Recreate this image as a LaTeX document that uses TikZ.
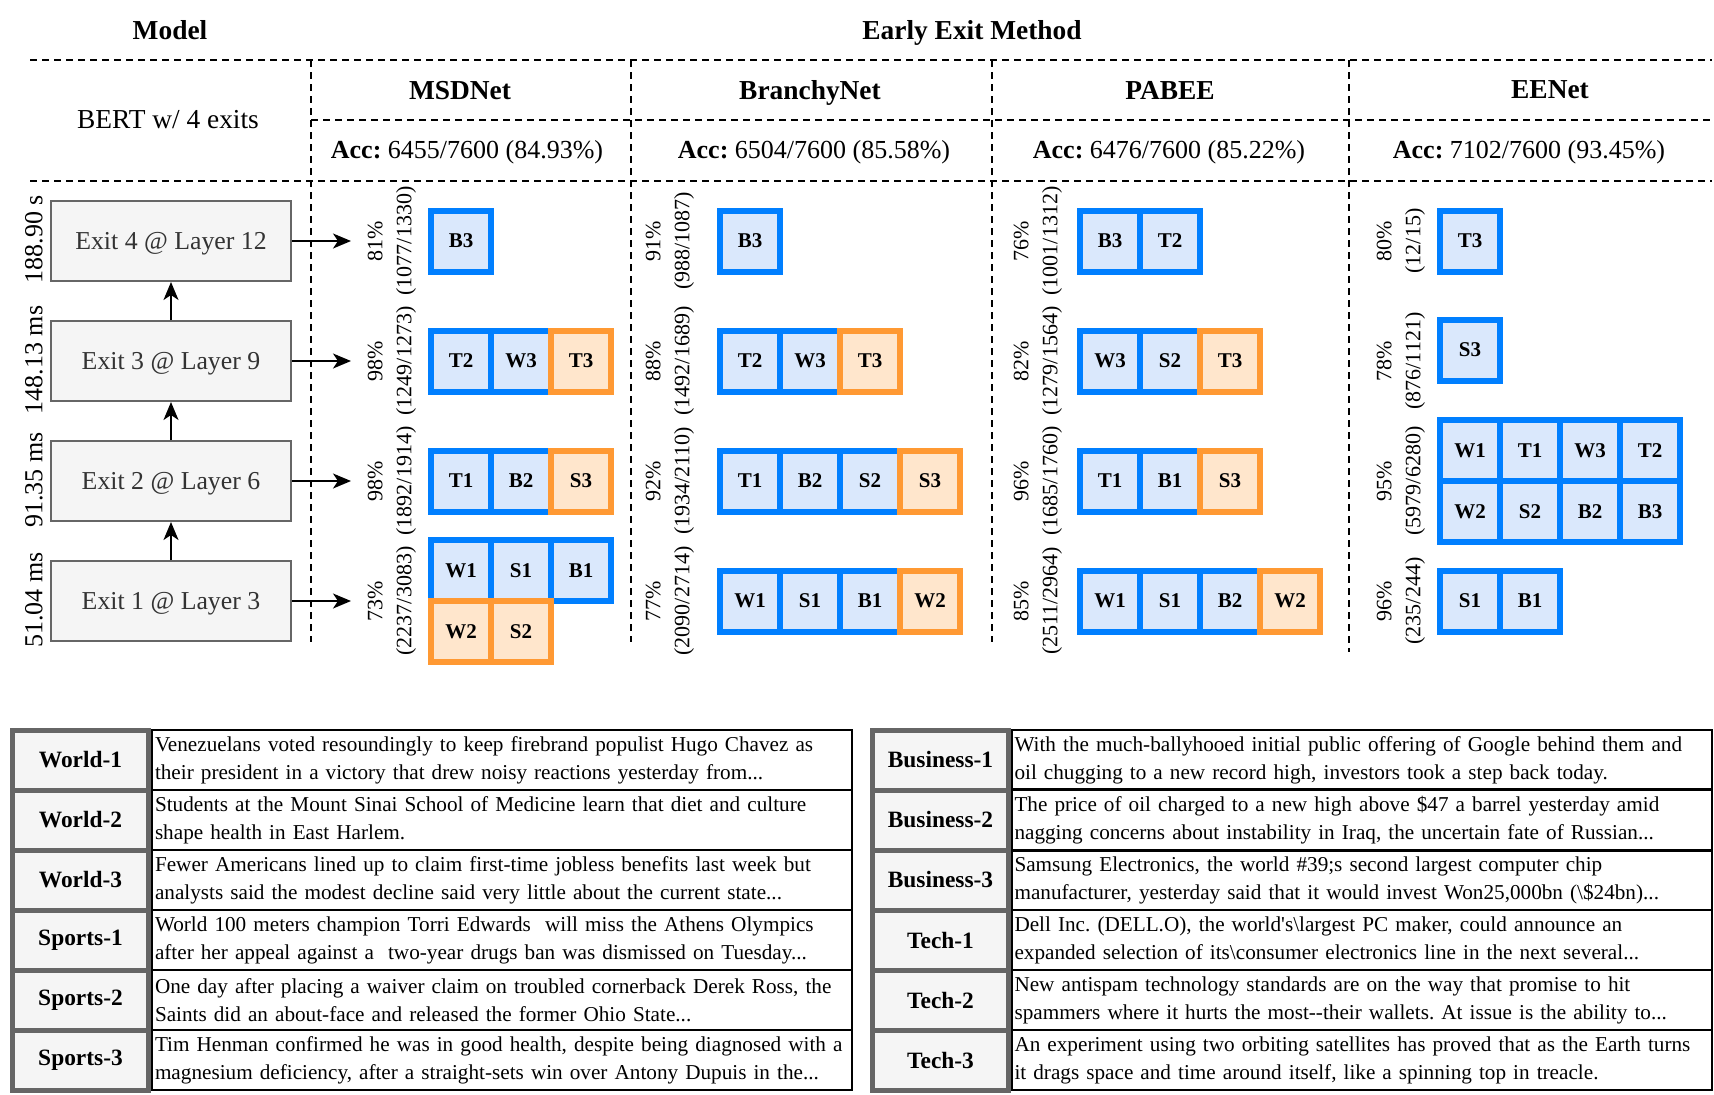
\documentclass[tikz,border=0pt]{standalone}
\usepackage{fontspec}
\setmainfont{Liberation Serif}
\usetikzlibrary{arrows.meta}
\frenchspacing

\definecolor{exitfill}{HTML}{F5F5F5}
\definecolor{exitline}{HTML}{666666}
\definecolor{exittext}{HTML}{333333}
\definecolor{blueline}{HTML}{007FFF}
\definecolor{bluefill}{HTML}{DAE8FC}
\definecolor{orangeline}{HTML}{FF9933}
\definecolor{orangefill}{HTML}{FFE6CC}

\begin{document}
\begin{tikzpicture}[
    x=0.5pt, y=-0.5pt,
    >={Stealth[length=9pt, width=7.5pt, inset=2.5pt]},
    % Styles for the header
    title/.style={text depth=0pt, font=\fontsize{13.7}{16}\selectfont\bfseries},
    accline/.style={font=\fontsize{13}{16}\selectfont},
    sepline/.style={line width=1pt, dash pattern=on 3.5pt off 2.5pt},
    % Styles for the model column
    exitbox/.style={draw=exitline, fill=exitfill, line width=1pt, minimum width=120pt, minimum height=40pt, text depth=0pt, text=exittext, font=\fontsize{12.9}{15}\selectfont},
    timelab/.style={rotate=90, font=\fontsize{13}{15}\selectfont},
    link/.style={->, line width=1pt},
    % Styles for the exit results
    pctlab/.style={rotate=90, align=center, font=\fontsize{11}{14.5}\selectfont},
    cell/.style={line width=3pt, minimum width=30pt, minimum height=30.5pt, inner sep=0pt, font=\fontsize{10.5}{12}\selectfont\bfseries},
    bcell/.style={cell, draw=blueline, fill=bluefill},
    ocell/.style={cell, draw=orangeline, fill=orangefill},
    % Styles for the sample table
    catbox/.style={draw=exitline, fill=exitfill, line width=2.5pt, minimum width=68pt, minimum height=30pt, font=\fontsize{11.7}{14}\selectfont\bfseries},
    txtbox/.style={draw=black, line width=1pt, minimum height=30pt, text width=347pt, inner xsep=1.5pt, align=left, font=\fontsize{10.6}{14}\selectfont}
]
    \useasboundingbox (0,0) rectangle (1714,1094);

    % Header
    \node[title] (model) at (170,30) {Model};
    \node[title] (method) at (972,30) {Early Exit Method};
    \node[title] (msd) at (460,90) {MSDNet};
    \node[title] (branchy) at (810,90) {BranchyNet};
    \node[title] (pabee) at (1170,90) {PABEE};
    \node[title] (eenet) at (1550,90) {EENet};
    \node[font=\fontsize{13.7}{16}\selectfont] (bert) at (168,120) {BERT w/ 4 exits};
    \node[accline] (msdacc) at (467,152) {\textbf{Acc:} 6455/7600 (84.93\%)};
    \node[accline] (branchyacc) at (814,152) {\textbf{Acc:} 6504/7600 (85.58\%)};
    \node[accline] (pabeeacc) at (1169,152) {\textbf{Acc:} 6476/7600 (85.22\%)};
    \node[accline] (eenetacc) at (1529,152) {\textbf{Acc:} 7102/7600 (93.45\%)};

    \draw[sepline] (30,60) -- (1712,60);
    \draw[sepline] (311,120) -- (1712,120);
    \draw[sepline] (30,181) -- (1712,181);
    \draw[sepline] (311,60) -- (311,642);
    \draw[sepline] (631,60) -- (631,642);
    \draw[sepline] (992,60) -- (992,642);
    \draw[sepline] (1349,60) -- (1349,652);

    % Model with four exits
    \node[exitbox] (exit4) at (171,241) {Exit 4 @ Layer 12};
    \node[exitbox] (exit3) at (171,361) {Exit 3 @ Layer 9};
    \node[exitbox] (exit2) at (171,481) {Exit 2 @ Layer 6};
    \node[exitbox] (exit1) at (171,601) {Exit 1 @ Layer 3};

    \node[timelab] (time4) at (34,239) {188.90 s};
    \node[timelab] (time3) at (34,360) {148.13 ms};
    \node[timelab] (time2) at (34,480) {91.35 ms};
    \node[timelab] (time1) at (34,600) {51.04 ms};

    \draw[link] (exit1) -- (exit2);
    \draw[link] (exit2) -- (exit3);
    \draw[link] (exit3) -- (exit4);
    \foreach \r/\y in {4/241, 3/361, 2/481, 1/601} {
        \coordinate (out\r) at (351,\y);
        \draw[link] (exit\r) -- (out\r);
    }

    % Exit rates per method
    \foreach \p/\f [count=\r] in {81/{1077/1330}, 98/{1249/1273}, 98/{1892/1914}, 73/{2237/3083}}
        \node[pctlab] (msdpct\r) at (392,{241+120*(\r-1)}) {\p\%\\(\f)};
    \foreach \p/\f [count=\r] in {91/{988/1087}, 88/{1492/1689}, 92/{1934/2110}, 77/{2090/2714}}
        \node[pctlab] (branchypct\r) at (670,{241+120*(\r-1)}) {\p\%\\(\f)};
    \foreach \p/\f [count=\r] in {76/{1001/1312}, 82/{1279/1564}, 96/{1685/1760}, 85/{2511/2964}}
        \node[pctlab] (pabeepct\r) at (1038,{241+120*(\r-1)}) {\p\%\\(\f)};
    \foreach \p/\f [count=\r] in {80/{12/15}, 78/{876/1121}, 95/{5979/6280}, 96/{235/244}}
        \node[pctlab] (eenetpct\r) at (1401,{241+120*(\r-1)}) {\p\%\\(\f)};

    % MSDNet
    \node[bcell] (msd4-1) at (461,241) {B3};
    \foreach \t/\s [count=\i] in {T2/bcell, W3/bcell, T3/ocell}
        \node[\s] (msd3-\i) at ({401+60*\i},361) {\t};
    \foreach \t/\s [count=\i] in {T1/bcell, B2/bcell, S3/ocell}
        \node[\s] (msd2-\i) at ({401+60*\i},481) {\t};
    \foreach \t/\s [count=\i] in {W1/bcell, S1/bcell, B1/bcell}
        \node[\s] (msd1-\i) at ({401+60*\i},570.5) {\t};
    \foreach \t/\s [count=\i] in {W2/ocell, S2/ocell}
        \node[\s] (msd0-\i) at ({401+60*\i},631.5) {\t};

    % BranchyNet
    \node[bcell] (branchy4-1) at (750,241) {B3};
    \foreach \t/\s [count=\i] in {T2/bcell, W3/bcell, T3/ocell}
        \node[\s] (branchy3-\i) at ({690+60*\i},361) {\t};
    \foreach \t/\s [count=\i] in {T1/bcell, B2/bcell, S2/bcell, S3/ocell}
        \node[\s] (branchy2-\i) at ({690+60*\i},481) {\t};
    \foreach \t/\s [count=\i] in {W1/bcell, S1/bcell, B1/bcell, W2/ocell}
        \node[\s] (branchy1-\i) at ({690+60*\i},601) {\t};

    % PABEE
    \foreach \t/\s [count=\i] in {B3/bcell, T2/bcell}
        \node[\s] (pabee4-\i) at ({1050+60*\i},241) {\t};
    \foreach \t/\s [count=\i] in {W3/bcell, S2/bcell, T3/ocell}
        \node[\s] (pabee3-\i) at ({1050+60*\i},361) {\t};
    \foreach \t/\s [count=\i] in {T1/bcell, B1/bcell, S3/ocell}
        \node[\s] (pabee2-\i) at ({1050+60*\i},481) {\t};
    \foreach \t/\s [count=\i] in {W1/bcell, S1/bcell, B2/bcell, W2/ocell}
        \node[\s] (pabee1-\i) at ({1050+60*\i},601) {\t};

    % EENet
    \node[bcell] (eenet4-1) at (1470,241) {T3};
    \node[bcell] (eenet3-1) at (1470,350) {S3};
    \foreach \t [count=\i] in {W1, T1, W3, T2}
        \node[bcell] (eenet2-\i) at ({1410+60*\i},450.5) {\t};
    \foreach \t [count=\i] in {W2, S2, B2, B3}
        \node[bcell] (eenet0-\i) at ({1410+60*\i},511.5) {\t};
    \foreach \t [count=\i] in {S1, B1}
        \node[bcell] (eenet1-\i) at ({1410+60*\i},601) {\t};

    % Sample table, left half
    \node[txtbox] (world1txt) at (502,760) {Venezuelans voted resoundingly to keep firebrand populist Hugo Chavez as\\their president in a victory that drew noisy reactions yesterday from...};
    \node[txtbox] (world2txt) at (502,820) {Students at the Mount Sinai School of Medicine learn that diet and culture\\shape health in East Harlem.};
    \node[txtbox] (world3txt) at (502,880) {Fewer Americans lined up to claim first-time jobless benefits last week but\\analysts said the modest decline said very little about the current state...};
    \node[txtbox] (sports1txt) at (502,940) {World 100 meters champion Torri Edwards~ will miss the Athens Olympics\\after her appeal against a~ two-year drugs ban was dismissed on Tuesday...};
    \node[txtbox] (sports2txt) at (502,1000) {One day after placing a waiver claim on troubled cornerback Derek Ross, the\\Saints did an about-face and released the former Ohio State...};
    \node[txtbox] (sports3txt) at (502,1060) {Tim Henman confirmed he was in good health, despite being diagnosed with a\\magnesium deficiency, after a straight-sets win over Antony Dupuis in the...};
    \node[catbox] (world1) at (80.5,760) {World-1};
    \node[catbox] (world2) at (80.5,820) {World-2};
    \node[catbox] (world3) at (80.5,880) {World-3};
    \node[catbox] (sports1) at (80.5,940) {Sports-1};
    \node[catbox] (sports2) at (80.5,1000) {Sports-2};
    \node[catbox] (sports3) at (80.5,1060) {Sports-3};

    % Sample table, right half
    \node[txtbox] (business1txt) at (1361.5,760) {With the much-ballyhooed initial public offering of Google behind them and\\oil chugging to a new record high, investors took a step back today.};
    \node[txtbox] (business2txt) at (1361.5,820) {The price of oil charged to a new high above \$47 a barrel yesterday amid\\nagging concerns about instability in Iraq, the uncertain fate of Russian...};
    \node[txtbox] (business3txt) at (1361.5,880) {Samsung Electronics, the world \#39;s second largest computer chip\\manufacturer, yesterday said that it would invest Won25,000bn (\textbackslash\$24bn)...};
    \node[txtbox] (tech1txt) at (1361.5,940) {Dell Inc. (DELL.O), the world\textquotesingle s\textbackslash largest PC maker, could announce an\\expanded selection of its\textbackslash consumer electronics line in the next several...};
    \node[txtbox] (tech2txt) at (1361.5,1000) {New antispam technology standards are on the way that promise to hit\\spammers where it hurts the most-{}-their wallets. At issue is the ability to...};
    \node[txtbox] (tech3txt) at (1361.5,1060) {An experiment using two orbiting satellites has proved that as the Earth turns\\it drags space and time around itself, like a spinning top in treacle.};
    \node[catbox] (business1) at (940.5,760) {Business-1};
    \node[catbox] (business2) at (940.5,820) {Business-2};
    \node[catbox] (business3) at (940.5,880) {Business-3};
    \node[catbox] (tech1) at (940.5,940) {Tech-1};
    \node[catbox] (tech2) at (940.5,1000) {Tech-2};
    \node[catbox] (tech3) at (940.5,1060) {Tech-3};

\end{tikzpicture}
\end{document}
